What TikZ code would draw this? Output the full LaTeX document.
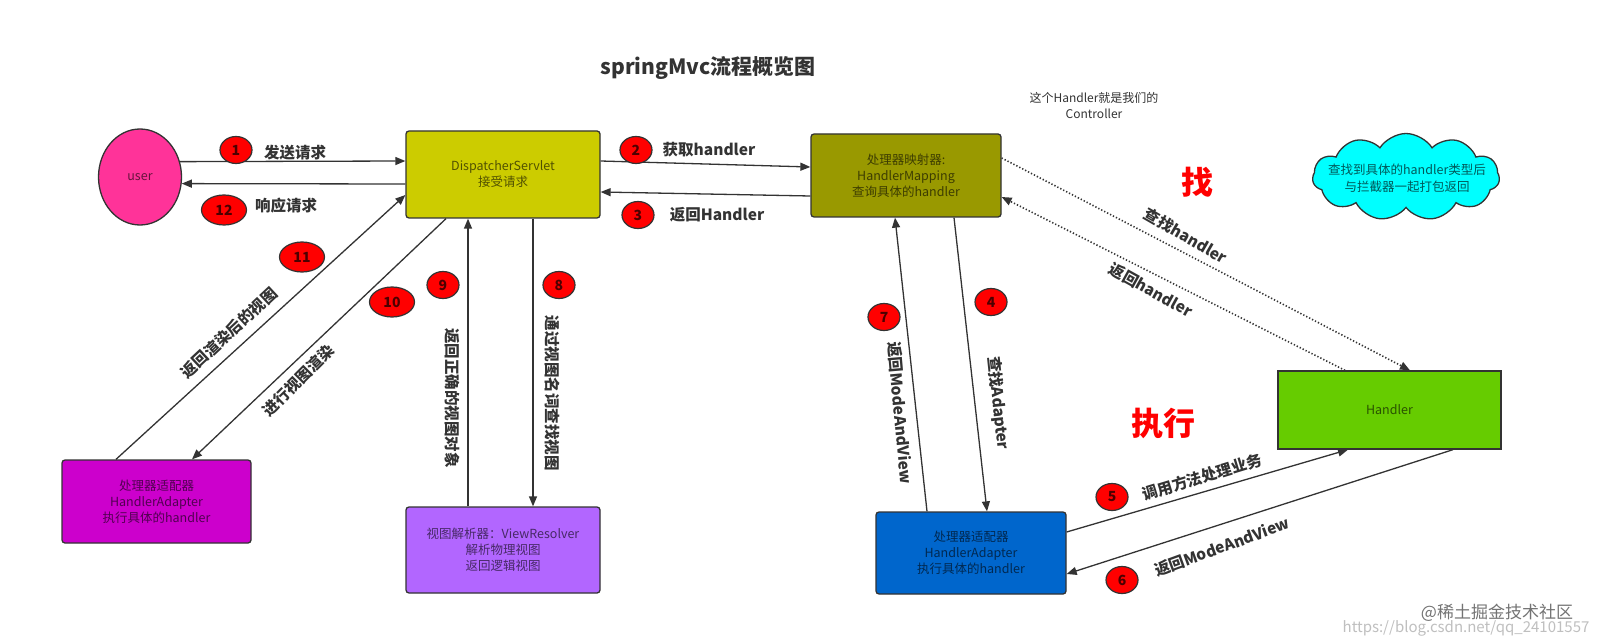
\documentclass[tikz,border=0pt]{standalone}
\usepackage{fontspec}
\setmainfont{Noto Sans CJK SC}
\usetikzlibrary{arrows.meta,shapes.symbols,shapes.geometric,calc}
\definecolor{ink}{HTML}{333333}
\definecolor{cuser}{HTML}{FF3399}
\definecolor{cds}{HTML}{CCCC00}
\definecolor{chm}{HTML}{999900}
\definecolor{chd}{HTML}{66CC00}
\definecolor{cbha}{HTML}{0066CC}
\definecolor{cmha}{HTML}{CC00CC}
\definecolor{cvr}{HTML}{B266FF}
\definecolor{ccloud}{HTML}{00FFFF}
\definecolor{cred}{HTML}{FF0000}
\begin{document}
\begin{tikzpicture}[x=1pt,y=-1pt,
  box/.style={draw=ink,line width=1.3pt,rounded corners=3pt,align=center,
    font=\fontsize{12.5}{16}\selectfont,text=black,text opacity=0.6,inner sep=0pt},
  badge/.style={ellipse,draw=ink,fill=cred,line width=1.2pt,inner sep=0pt,
    font=\bfseries\fontsize{14}{14}\selectfont,text=black,text opacity=0.7},
  one/.style={badge,minimum width=32pt,minimum height=27pt},
  two/.style={badge,minimum width=45pt,minimum height=30pt},
  lbl/.style={font=\bfseries\fontsize{15.5}{15.5}\selectfont,text=ink,inner sep=0pt},
  arr/.style={draw=ink,line width=1.3pt,-{Triangle[length=10pt,width=8pt]}},
  dotarr/.style={arr,dotted,line width=1.6pt},
  big/.style={font=\bfseries\fontsize{32}{32}\selectfont,text=cred,inner sep=0pt}]
\fill[white] (0,0) rectangle (1597,644);
\useasboundingbox (0,0) rectangle (1597,644);

% title
\node[font=\bfseries\fontsize{21}{21}\selectfont,text=ink] (title) at (708,68) {springMvc流程概览图};

% nodes
\node[ellipse,draw=ink,fill=cuser,line width=1.3pt,minimum width=83pt,minimum height=96pt,
  font=\fontsize{12.5}{16}\selectfont,text=black,text opacity=0.6] (user) at (140,177) {user};
\node[box,fill=cds,minimum width=194pt,minimum height=87pt] (ds) at (503,174.5) {DispatcherServlet\\接受请求};
\node[box,fill=chm,minimum width=190pt,minimum height=83pt] (hm) at (906,175.5) {处理器映射器:\\HandlerMapping\\查询具体的handler};
\node[box,fill=chd,minimum width=223pt,minimum height=78pt,rounded corners=0pt] (hd) at (1389.5,410) {Handler};
\node[box,fill=cbha,minimum width=190pt,minimum height=82pt] (bha) at (971,553) {处理器适配器\\HandlerAdapter\\执行具体的handler};
\node[box,fill=cmha,minimum width=189pt,minimum height=83pt] (mha) at (156.5,501.5) {处理器适配器\\HandlerAdapter\\执行具体的handler};
\node[box,fill=cvr,minimum width=194pt,minimum height=86pt] (vr) at (503,550) {视图解析器：ViewResolver\\解析物理视图\\返回逻辑视图};

% cloud
\node[cloud,cloud puffs=11,cloud puff arc=115,aspect=2.2,draw=ink,fill=ccloud,line width=1.3pt,
  minimum width=187pt,minimum height=87pt] (cl) at (1406,177) {};
\node[align=center,font=\fontsize{12.5}{17}\selectfont,text=black,text opacity=0.65] (cltxt) at (1407,178.5)
  {查找到具体的handler类型后\\与拦截器一起打包返回};

% note
\node[align=center,font=\fontsize{12}{16}\selectfont,text=ink] (note) at (1094,106) {这个Handler就是我们的\\Controller};

% big red words
\node[big] (zhao) at (1197,182) {找};
\node[big] (zx) at (1163,423) {执行};

% arrows
\draw[arr] (user.21) -- ([yshift=13.5pt]ds.west);
\draw[arr] ([yshift=-9.5pt]ds.west) -- (user.-9);
\draw[arr] ([yshift=13.5pt]ds.east) -- ([yshift=8.5pt]hm.west);
\draw[arr] ([yshift=-20.5pt]hm.west) -- ([yshift=-17.5pt]ds.east);
\draw[arr] ([xshift=48pt]hm.south) -- ([xshift=16pt]bha.north);
\draw[arr] ([xshift=-44pt]bha.north) -- ([xshift=-11pt]hm.south);
\draw[dotarr] ([yshift=17.5pt]hm.east) -- ([xshift=20.5pt]hd.north);
\draw[dotarr] ([xshift=-44.5pt]hd.north) -- ([yshift=-21.5pt]hm.east);
\draw[arr] ([yshift=21pt]bha.east) -- ([xshift=-41.5pt]hd.south);
\draw[arr] ([xshift=63.5pt]hd.south) -- ([yshift=-21pt]bha.east);
\draw[arr] ([xshift=30pt]ds.south) -- ([xshift=30pt]vr.north);
\draw[arr] ([xshift=-35pt]vr.north) -- ([xshift=-35pt]ds.south);
\draw[arr] ([xshift=-57pt]ds.south) -- ([xshift=35.5pt]mha.north);
\draw[arr] ([xshift=-40.5pt]mha.north) -- ([yshift=-20.5pt]ds.west);

% badges
\node[one] (b1) at (236,150) {1};
\node[two] (b12) at (224,210) {12};
\node[one] (b2) at (636,150) {2};
\node[one] (b3) at (638,215) {3};
\node[one] (b4) at (991,302) {4};
\node[one] (b7) at (884,317) {7};
\node[one] (b5) at (1112,497) {5};
\node[one] (b6) at (1122,580) {6};
\node[one] (b8) at (559,285) {8};
\node[one] (b9) at (443,285) {9};
\node[two] (b10) at (392,302) {10};
\node[two] (b11) at (302,257) {11};

% labels
\node[lbl] (l1) at (295,153) {发送请求};
\node[lbl] (l12) at (286,206) {响应请求};
\node[lbl] (l2) at (709,150) {获取handler};
\node[lbl] (l3) at (717,215) {返回Handler};
\node[lbl,rotate=-84] (l4) at (998,403) {查找Adapter};
\node[lbl,rotate=-85] (l7) at (900,413) {返回ModeAndView};
\node[lbl,rotate=-30] (lfind) at (1186,236) {查找handler};
\node[lbl,rotate=-29] (lret) at (1151,290) {返回handler};
\node[lbl,rotate=17] (l5) at (1202,477) {调用方法处理业务};
\node[lbl,rotate=20] (l6) at (1222,547) {返回ModeAndView};
\node[lbl,rotate=-90] (l8) at (552,393) {通过视图名词查找视图};
\node[lbl,rotate=-90] (l9) at (452,398) {返回正确的视图对象};
\node[lbl,rotate=45] (l10) at (298,380) {进行视图渲染};
\node[lbl,rotate=43] (l11) at (229,333) {返回渲染后的视图};

% watermark
\node[font=\fontsize{15}{15}\selectfont,text=black!25,inner sep=0pt] (wm2) at (1466,628) {https://blog.csdn.net/qq\_24101557};
\node[font=\fontsize{17}{17}\selectfont,text=black!55,inner sep=0pt] (wm1) at (1497,613) {@稀土掘金技术社区};
\end{tikzpicture}
\end{document}
